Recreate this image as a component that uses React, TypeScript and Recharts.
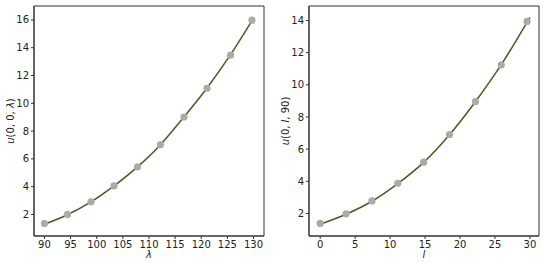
import {
  ComposedChart,
  Line,
  ReferenceArea,
  Scatter,
  XAxis,
  YAxis,
} from "recharts";

// left panel: u(0, 0, λ)
const lambdaPts = [90, 94.4, 98.9, 103.3, 107.8, 112.2, 116.7, 121.1, 125.6, 129.7];
const lambdaU = [1.35, 2.0, 2.91, 4.06, 5.43, 7.02, 9.01, 11.08, 13.46, 15.98];
const lambdaCurveX = [90, 94.4, 98.9, 103.3, 107.8, 112.2, 116.7, 121.1, 125.6, 130];
const lambdaCurveU = [1.3, 1.98, 2.9, 4.05, 5.42, 7.02, 9.02, 11.1, 13.5, 16.13];
const lambdaTicks = [90, 95, 100, 105, 110, 115, 120, 125, 130];
const lambdaUTicks = [2, 4, 6, 8, 10, 12, 14, 16];

// right panel: u(0, l, 90)
const lPts = [0, 3.7, 7.4, 11.1, 14.8, 18.5, 22.2, 25.9, 29.6];
const lU = [1.38, 1.98, 2.78, 3.88, 5.19, 6.91, 8.95, 11.24, 13.94];
const lCurveX = [0, 3.7, 7.4, 11.1, 14.8, 18.5, 22.2, 25.9, 30];
const lCurveU = [1.33, 1.95, 2.76, 3.86, 5.18, 6.9, 8.95, 11.25, 14.2];
const lTicks = [0, 5, 10, 15, 20, 25, 30];
const lUTicks = [2, 4, 6, 8, 10, 12, 14];

const FONT = "DejaVu Sans";
const LINE = "#4b5a1f";
const MARKER = "#aaaaaa";
const FRAME = "#333333";
const HEIGHT = 263;

const zip = (xs: number[], ys: number[]) => xs.map((x, i) => ({ x, y: ys[i] }));

function Dot(p: { cx?: number; cy?: number }) {
  return <circle cx={p.cx} cy={p.cy} r={3.6} fill={MARKER} />;
}

function Panel({
  points,
  curve,
  xDomain,
  yDomain,
  xTicks,
  yTicks,
  yLabel,
  xLabel,
}: {
  points: { x: number; y: number }[];
  curve: { x: number; y: number }[];
  xDomain: [number, number];
  yDomain: [number, number];
  xTicks: number[];
  yTicks: number[];
  yLabel: React.ReactNode;
  xLabel: string;
}) {
  const tick = { fontSize: 10, fill: "#222", fontFamily: FONT };
  return (
    <ComposedChart
      width={275}
      height={HEIGHT}
      margin={{ top: 6, right: 11, bottom: 0, left: 0 }}
    >
      <XAxis
        type="number"
        dataKey="x"
        domain={xDomain}
        ticks={xTicks}
        allowDataOverflow
        height={27}
        tickSize={3}
        tickMargin={2}
        tick={tick}
        stroke={FRAME}
        label={{
          content: (props: any) => {
            const vb = props.viewBox;
            return (
              <text
                x={vb.x + vb.width / 2}
                y={HEIGHT - 5}
                textAnchor="middle"
                fontSize={10}
                fontStyle="italic"
                fontFamily={FONT}
                fill="#222"
              >
                {xLabel}
              </text>
            );
          },
        }}
      />
      <YAxis
        type="number"
        dataKey="y"
        domain={yDomain}
        ticks={yTicks}
        allowDataOverflow
        width={34}
        tickSize={3}
        tickMargin={2}
        tick={tick}
        stroke={FRAME}
        label={{
          content: (props: any) => {
            const vb = props.viewBox;
            const cx = vb.x + 10;
            const cy = vb.y + vb.height / 2;
            return (
              <text
                x={cx}
                y={cy}
                transform={`rotate(-90 ${cx} ${cy})`}
                textAnchor="middle"
                dominantBaseline="central"
                fontSize={10}
                fontFamily={FONT}
                fill="#222"
              >
                {yLabel}
              </text>
            );
          },
        }}
      />
      <ReferenceArea
        x1={xDomain[0]}
        x2={xDomain[1]}
        y1={yDomain[0]}
        y2={yDomain[1]}
        fill="none"
        stroke={FRAME}
        strokeWidth={1}
        fillOpacity={0}
      />
      <Line
        data={curve}
        dataKey="y"
        type="monotone"
        stroke={LINE}
        strokeWidth={1.5}
        dot={false}
        isAnimationActive={false}
      />
      <Scatter
        data={points}
        dataKey="y"
        shape={<Dot />}
        isAnimationActive={false}
      />
    </ComposedChart>
  );
}

export default function App() {
  return (
    <div
      style={{
        position: "absolute",
        left: 0,
        top: 0,
        width: 550,
        height: HEIGHT,
        display: "flex",
        background: "#fff",
      }}
    >
      <Panel
        points={zip(lambdaPts, lambdaU)}
        curve={zip(lambdaCurveX, lambdaCurveU)}
        xDomain={[88, 132]}
        yDomain={[0.45, 17]}
        xTicks={lambdaTicks}
        yTicks={lambdaUTicks}
        xLabel="λ"
        yLabel={
          <>
            <tspan fontStyle="italic">u</tspan>(0, 0, <tspan fontStyle="italic">λ</tspan>)
          </>
        }
      />
      <Panel
        points={zip(lPts, lU)}
        curve={zip(lCurveX, lCurveU)}
        xDomain={[-1.6, 31.3]}
        yDomain={[0.6, 14.9]}
        xTicks={lTicks}
        yTicks={lUTicks}
        xLabel="l"
        yLabel={
          <>
            <tspan fontStyle="italic">u</tspan>(0, <tspan fontStyle="italic">l</tspan>, 90)
          </>
        }
      />
    </div>
  );
}
